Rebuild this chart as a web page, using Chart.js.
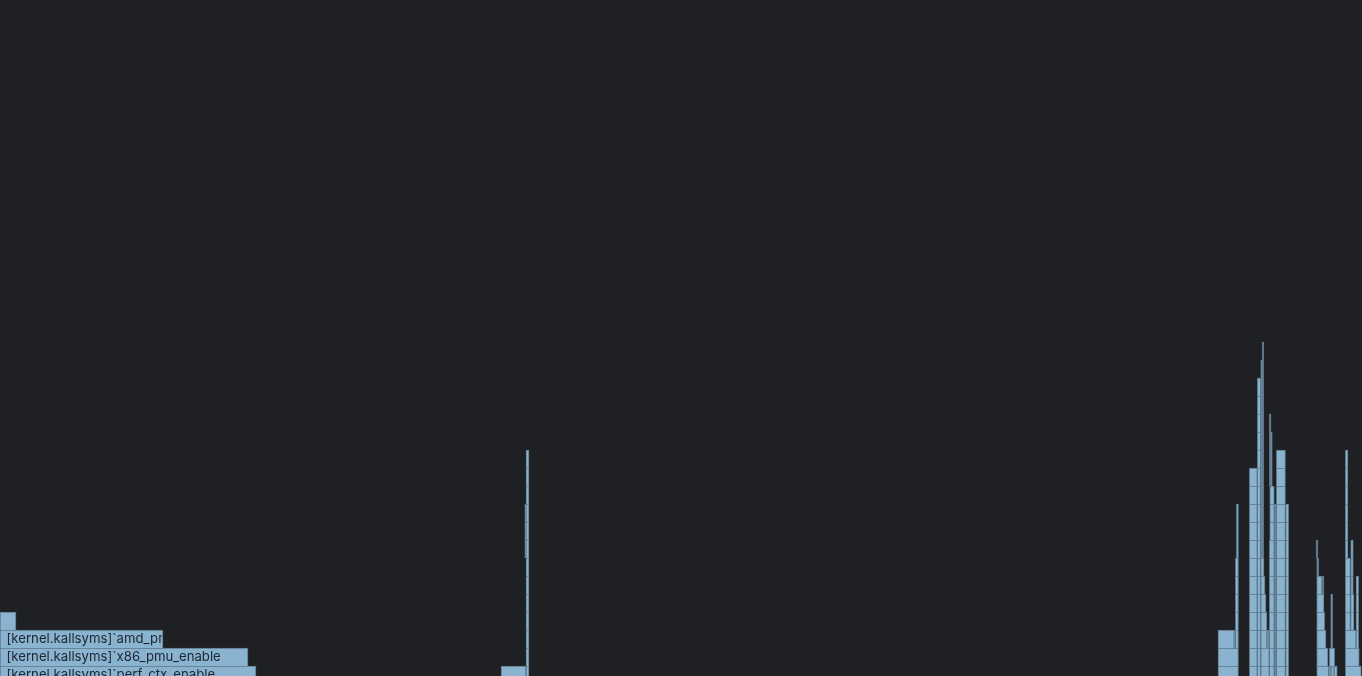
<!DOCTYPE html>
<html>
<head>
<meta charset="utf-8">
<script src="https://cdn.jsdelivr.net/npm/chart.js@4.4.1/dist/chart.umd.min.js"></script>
<style>
  html, body { margin: 0; padding: 0; background: #1f2023; overflow: hidden; }
  #wrap { position: relative; width: 1362px; height: 676px; }
</style>
</head>
<body>
<div id="wrap"><canvas id="c"></canvas></div>
<script>
// Flame graph frames: [stack level, start sample, end sample, frame name]
const kernelStack = [
  [0, 0, 256, "[kernel.kallsyms]`perf_ctx_enable"],
  [1, 0, 248, "[kernel.kallsyms]`x86_pmu_enable"],
  [2, 0, 163, "[kernel.kallsyms]`amd_pmu_enable_all"],
  [3, 0, 16, ""]
];

const midColumn = [
  [0, 501, 526, ""],
  [0, 526, 529, ""], [1, 526, 529, ""], [2, 526, 529, ""], [3, 526, 529, ""],
  [4, 526, 529, ""], [5, 526, 529, ""], [6, 526, 529, ""], [7, 526, 529, ""],
  [8, 526, 529, ""], [9, 526, 529, ""], [10, 526, 529, ""], [11, 526, 529, ""],
  [12, 526, 529, ""],
  [7, 524.8, 526, ""], [8, 524.8, 526, ""], [9, 524.8, 526, ""]
];

const towerA = [
  [0, 1218, 1238.5, ""], [1, 1218, 1238.5, ""],
  [2, 1218, 1234.3, ""], [2, 1234.3, 1235.3, ""], [2, 1235.3, 1238.5, ""],
  [3, 1235.3, 1238.5, ""], [4, 1235.3, 1238.5, ""], [5, 1235.3, 1238.5, ""], [6, 1235.3, 1238.5, ""],
  [7, 1236.3, 1238.5, ""], [8, 1236.3, 1238.5, ""], [9, 1236.3, 1238.5, ""]
];

const towerB = [
  [0, 1249.3, 1257.3, ""], [1, 1249.3, 1257.3, ""], [2, 1249.3, 1257.3, ""], [3, 1249.3, 1257.3, ""],
  [4, 1249.3, 1257.3, ""], [5, 1249.3, 1257.3, ""], [6, 1249.3, 1257.3, ""], [7, 1249.3, 1257.3, ""],
  [8, 1249.3, 1257.3, ""], [9, 1249.3, 1257.3, ""], [10, 1249.3, 1257.3, ""], [11, 1249.3, 1257.3, ""],
  [0, 1257.3, 1260.7, ""], [1, 1257.3, 1260.7, ""], [2, 1257.3, 1260.7, ""], [3, 1257.3, 1260.7, ""],
  [4, 1257.3, 1260.7, ""], [5, 1257.3, 1260.7, ""], [6, 1257.3, 1260.7, ""], [7, 1257.3, 1260.7, ""],
  [8, 1257.3, 1260.7, ""], [9, 1257.3, 1260.7, ""], [10, 1257.3, 1260.7, ""], [11, 1257.3, 1260.7, ""],
  [12, 1257.3, 1260.7, ""], [13, 1257.3, 1260.7, ""], [14, 1257.3, 1260.7, ""], [15, 1257.3, 1260.7, ""],
  [16, 1257.3, 1260.7, ""],
  [0, 1260.7, 1269.3, ""], [1, 1260.7, 1269.3, ""], [2, 1260.7, 1267, ""], [2, 1267, 1269.3, ""],
  [3, 1260.7, 1267, ""], [4, 1260.7, 1266, ""], [5, 1260.7, 1265, ""], [6, 1260.7, 1264, ""],
  [7, 1260.7, 1262.2, ""], [8, 1260.7, 1262.2, ""], [9, 1260.7, 1262.2, ""], [10, 1260.7, 1262.2, ""],
  [11, 1260.7, 1262.2, ""], [12, 1260.7, 1262.2, ""], [13, 1260.7, 1262.2, ""], [14, 1260.7, 1262.2, ""],
  [15, 1260.7, 1262.2, ""], [16, 1260.7, 1262.2, ""], [17, 1260.7, 1262.2, ""],
  [7, 1262.2, 1263.8, ""], [8, 1262.2, 1263.8, ""], [9, 1262.2, 1263.8, ""], [10, 1262.2, 1263.8, ""],
  [11, 1262.2, 1263.8, ""], [12, 1262.2, 1263.8, ""], [13, 1262.2, 1263.8, ""], [14, 1262.2, 1263.8, ""],
  [15, 1262.2, 1263.8, ""], [16, 1262.2, 1263.8, ""], [17, 1262.2, 1263.8, ""], [18, 1262.2, 1263.8, ""]
];

const towerD = [
  [0, 1269.3, 1274.3, ""], [1, 1269.3, 1274.3, ""], [2, 1269.3, 1274.3, ""], [3, 1269.3, 1274.3, ""],
  [4, 1269.3, 1274.3, ""], [5, 1269.3, 1274.3, ""], [6, 1269.3, 1274.3, ""], [7, 1269.3, 1274.3, ""],
  [8, 1269.7, 1274.3, ""], [9, 1269.7, 1274.3, ""], [10, 1269.7, 1274.3, ""],
  [11, 1269.3, 1271, ""], [12, 1269.3, 1271, ""], [13, 1269.3, 1271, ""], [14, 1269.3, 1271, ""],
  [11, 1271, 1272.3, ""], [12, 1271, 1272.3, ""], [13, 1271, 1272.3, ""],
  [0, 1274.3, 1276.3, ""], [1, 1274.3, 1276.3, ""], [2, 1274.3, 1276.3, ""], [3, 1274.3, 1276.3, ""],
  [4, 1274.3, 1276.3, ""], [5, 1274.3, 1276.3, ""], [6, 1274.3, 1276.3, ""], [7, 1274.3, 1276.3, ""],
  [8, 1274.3, 1276.3, ""], [9, 1274.3, 1276.3, ""]
];

const towerE = [
  [0, 1276.3, 1285.5, ""], [1, 1276.3, 1285.5, ""], [2, 1276.3, 1285.5, ""], [3, 1276.3, 1285.5, ""],
  [4, 1276.3, 1285.5, ""], [5, 1276.3, 1285.5, ""], [6, 1276.3, 1285.5, ""], [7, 1276.3, 1285.5, ""],
  [8, 1276.3, 1285.5, ""], [9, 1276.3, 1285.5, ""], [10, 1276.3, 1285.5, ""], [11, 1276.3, 1285.5, ""],
  [12, 1276.3, 1285.5, ""],
  [0, 1285.5, 1288.7, ""], [1, 1285.5, 1288.7, ""], [2, 1285.5, 1288.7, ""], [3, 1285.5, 1288.7, ""],
  [4, 1285.5, 1288.7, ""], [5, 1285.5, 1288.7, ""], [6, 1285.5, 1288.7, ""], [7, 1285.5, 1288.7, ""],
  [8, 1285.5, 1288.7, ""], [9, 1285.5, 1288.7, ""]
];

const towerG = [
  [7, 1316, 1318, ""], [6, 1316.7, 1318.7, ""],
  [5, 1316.7, 1322, ""], [5, 1322, 1324, ""],
  [4, 1316.7, 1324, ""], [3, 1316.7, 1324.7, ""], [2, 1316.7, 1326, ""],
  [1, 1316.7, 1328, ""], [1, 1329.3, 1334.7, ""],
  [0, 1316.7, 1328.7, ""], [0, 1328.7, 1331, ""], [0, 1331, 1334, ""], [0, 1334, 1337.3, ""],
  [2, 1330.7, 1332.7, ""], [3, 1330.7, 1332.7, ""], [4, 1330.7, 1332.7, ""]
];

const towerH = [
  [7, 1345.3, 1348, ""], [8, 1345.3, 1348, ""], [9, 1345.3, 1348, ""], [10, 1345.3, 1348, ""],
  [11, 1345.3, 1348, ""], [12, 1345.3, 1348, ""],
  [3, 1345.3, 1350.5, ""], [4, 1345.3, 1350.5, ""], [5, 1345.3, 1350.5, ""], [6, 1345.3, 1350.5, ""],
  [3, 1350.5, 1354, ""], [4, 1350.5, 1354, ""],
  [5, 1350.7, 1353.3, ""], [6, 1350.7, 1353.3, ""], [7, 1350.7, 1353.3, ""],
  [2, 1356, 1358.7, ""], [3, 1356, 1358.7, ""], [4, 1356, 1358.7, ""], [5, 1356, 1358.7, ""],
  [2, 1345.3, 1356, ""], [1, 1345.3, 1359.3, ""], [0, 1345.3, 1361.3, ""]
];

const totalSamples = 1362;

const frames = [].concat(kernelStack, midColumn, towerA, towerB, towerD, towerE, towerG, towerH);
const points = frames.map(f => ({ x: [f[1], f[2]], y: f[0], name: f[3] }));

const labelPlugin = {
  id: 'frameLabels',
  afterDatasetsDraw(chart) {
    const ctx = chart.ctx;
    const meta = chart.getDatasetMeta(0);
    ctx.save();
    ctx.font = '13.2px Inter';
    ctx.fillStyle = '#1b2631';
    ctx.textBaseline = 'middle';
    meta.data.forEach((el, i) => {
      const name = points[i].name;
      if (!name) return;
      const p = el.getProps(['x', 'y', 'base', 'height'], true);
      const left = Math.min(p.x, p.base);
      const right = Math.max(p.x, p.base);
      if (right - left < 30) return;
      ctx.save();
      ctx.beginPath();
      ctx.rect(left, p.y - p.height / 2, right - left - 1, p.height);
      ctx.clip();
      ctx.fillText(name, left + 6.5, p.y + 0.5);
      ctx.restore();
    });
    ctx.restore();
  }
};

new Chart(document.getElementById('c'), {
  type: 'bar',
  data: {
    datasets: [{
      data: points,
      backgroundColor: '#8ab3cf',
      borderColor: '#5d7586',
      borderWidth: { top: 1, left: 1, right: 1, bottom: 0 },
      borderSkipped: false,
      barThickness: 18
    }]
  },
  options: {
    indexAxis: 'y',
    responsive: true,
    maintainAspectRatio: false,
    animation: false,
    devicePixelRatio: 1,
    layout: { padding: 0 },
    plugins: { legend: { display: false }, tooltip: { enabled: false } },
    scales: {
      x: { type: 'linear', min: 0, max: totalSamples, display: false, offset: false, grace: 0 },
      y: { type: 'linear', min: -1 / 18, max: 37.5, display: false, offset: false, grace: 0, bounds: 'data' }
    }
  },
  plugins: [labelPlugin]
});
</script>
</body>
</html>
